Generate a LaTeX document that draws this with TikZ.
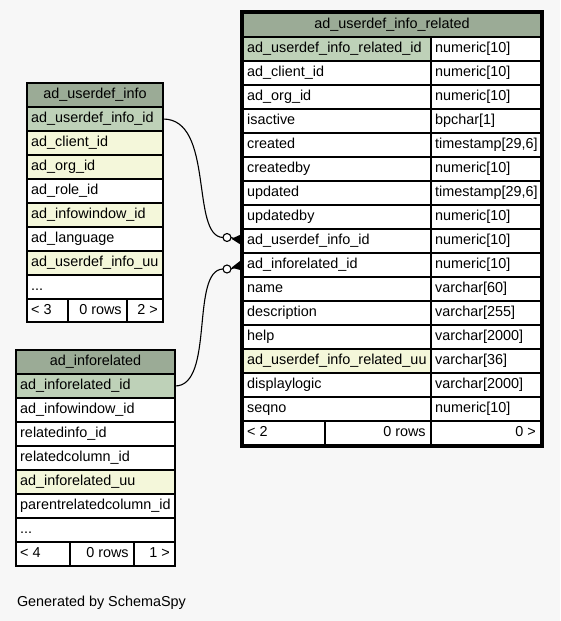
\documentclass[tikz,border=0pt]{standalone}
\usepackage{fontspec}
\setmainfont{Liberation Sans}
\definecolor{bgc}{HTML}{F7F7F7}
\definecolor{hdrc}{HTML}{9BAB96}
\definecolor{pkc}{HTML}{BED1B8}
\definecolor{idxc}{HTML}{F4F7DA}
\tikzset{
  cell/.style={draw=black, line width=1.2pt, anchor=north west, inner sep=0pt, outer sep=0pt},
  txt/.style={inner sep=0pt, outer sep=0pt, font=\fontsize{14.4}{17}\selectfont},
  edge/.style={draw=black, line width=1.1pt},
  odotc/.style={circle, draw=black, fill=white, line width=1.1pt, minimum size=8pt, inner sep=0pt, outer sep=0pt},
}
% left aligned cell
\newcommand\tcl[7]{%
  \node[cell, fill=#6, minimum width=#4pt, minimum height=#5pt] (#1) at (#2,#3) {};
  \node[txt, anchor=base west] (#1t) at ([xshift=4.2pt,yshift=-15.3pt]#1.north west) {#7};}
% right aligned cell
\newcommand\tcr[7]{%
  \node[cell, fill=#6, minimum width=#4pt, minimum height=#5pt] (#1) at (#2,#3) {};
  \node[txt, anchor=base east] (#1t) at ([xshift=-5.3pt,yshift=-15.3pt]#1.north east) {#7};}
% centred cell
\newcommand\tcc[7]{%
  \node[cell, fill=#6, minimum width=#4pt, minimum height=#5pt] (#1) at (#2,#3) {};
  \node[txt, anchor=base] (#1t) at ([yshift=-15.3pt]#1.north) {#7};}
\begin{document}
\begin{tikzpicture}[x=1pt, y=-1pt]
\fill[bgc] (0,0) rectangle (560,621);
\useasboundingbox (0,0) rectangle (560,621);

% ---------- ad_userdef_info ----------
\tcc{t1h}{27}{83}{136}{24}{hdrc}{ad\_userdef\_info}
\tcl{t1r1}{27}{107}{136}{24}{pkc}{ad\_userdef\_info\_id}
\tcl{t1r2}{27}{131}{136}{24}{idxc}{ad\_client\_id}
\tcl{t1r3}{27}{155}{136}{24}{idxc}{ad\_org\_id}
\tcl{t1r4}{27}{179}{136}{24}{white}{ad\_role\_id}
\tcl{t1r5}{27}{203}{136}{24}{idxc}{ad\_infowindow\_id}
\tcl{t1r6}{27}{227}{136}{24}{white}{ad\_language}
\tcl{t1r7}{27}{251}{136}{24}{idxc}{ad\_userdef\_info\_uu}
\tcl{t1r8}{27}{275}{136}{24}{white}{...}
\tcl{t1f1}{27}{299}{41}{23}{white}{< 3}
\tcr{t1f2}{68}{299}{59}{23}{white}{0 rows}
\tcr{t1f3}{127}{299}{36}{23}{white}{2 >}

% ---------- ad_inforelated ----------
\tcc{t2h}{16}{350}{159}{24}{hdrc}{ad\_inforelated}
\tcl{t2r1}{16}{374}{159}{24}{pkc}{ad\_inforelated\_id}
\tcl{t2r2}{16}{398}{159}{24}{white}{ad\_infowindow\_id}
\tcl{t2r3}{16}{422}{159}{24}{white}{relatedinfo\_id}
\tcl{t2r4}{16}{446}{159}{24}{white}{relatedcolumn\_id}
\tcl{t2r5}{16}{470}{159}{24}{idxc}{ad\_inforelated\_uu}
\tcl{t2r6}{16}{494}{159}{24}{white}{parentrelatedcolumn\_id}
\tcl{t2r7}{16}{518}{159}{24}{white}{...}
\tcl{t2f1}{16}{542}{54}{24}{white}{< 4}
\tcr{t2f2}{70}{542}{64}{24}{white}{0 rows}
\tcr{t2f3}{134}{542}{41}{24}{white}{1 >}

% ---------- ad_userdef_info_related ----------
\tcc{t3h}{243}{13}{298}{24}{hdrc}{ad\_userdef\_info\_related}
\tcl{t3a0}{243}{37}{188}{24}{pkc}{ad\_userdef\_info\_related\_id}
\tcl{t3b0}{431}{37}{110}{24}{white}{numeric[10]}
\tcl{t3a1}{243}{61}{188}{24}{white}{ad\_client\_id}
\tcl{t3b1}{431}{61}{110}{24}{white}{numeric[10]}
\tcl{t3a2}{243}{85}{188}{24}{white}{ad\_org\_id}
\tcl{t3b2}{431}{85}{110}{24}{white}{numeric[10]}
\tcl{t3a3}{243}{109}{188}{24}{white}{isactive}
\tcl{t3b3}{431}{109}{110}{24}{white}{bpchar[1]}
\tcl{t3a4}{243}{133}{188}{24}{white}{created}
\tcl{t3b4}{431}{133}{110}{24}{white}{timestamp[29,6]}
\tcl{t3a5}{243}{157}{188}{24}{white}{createdby}
\tcl{t3b5}{431}{157}{110}{24}{white}{numeric[10]}
\tcl{t3a6}{243}{181}{188}{24}{white}{updated}
\tcl{t3b6}{431}{181}{110}{24}{white}{timestamp[29,6]}
\tcl{t3a7}{243}{205}{188}{24}{white}{updatedby}
\tcl{t3b7}{431}{205}{110}{24}{white}{numeric[10]}
\tcl{t3a8}{243}{229}{188}{24}{white}{ad\_userdef\_info\_id}
\tcl{t3b8}{431}{229}{110}{24}{white}{numeric[10]}
\tcl{t3a9}{243}{253}{188}{24}{white}{ad\_inforelated\_id}
\tcl{t3b9}{431}{253}{110}{24}{white}{numeric[10]}
\tcl{t3a10}{243}{277}{188}{24}{white}{name}
\tcl{t3b10}{431}{277}{110}{24}{white}{varchar[60]}
\tcl{t3a11}{243}{301}{188}{24}{white}{description}
\tcl{t3b11}{431}{301}{110}{24}{white}{varchar[255]}
\tcl{t3a12}{243}{325}{188}{24}{white}{help}
\tcl{t3b12}{431}{325}{110}{24}{white}{varchar[2000]}
\tcl{t3a13}{243}{349}{188}{24}{idxc}{ad\_userdef\_info\_related\_uu}
\tcl{t3b13}{431}{349}{110}{24}{white}{varchar[36]}
\tcl{t3a14}{243}{373}{188}{24}{white}{displaylogic}
\tcl{t3b14}{431}{373}{110}{24}{white}{varchar[2000]}
\tcl{t3a15}{243}{397}{188}{24}{white}{seqno}
\tcl{t3b15}{431}{397}{110}{24}{white}{numeric[10]}
\tcl{t3f1}{243}{421}{82}{24}{white}{< 2}
\tcr{t3f2}{325}{421}{106}{24}{white}{0 rows}
\tcr{t3f3}{431}{421}{110}{24}{white}{0 >}
\node[draw=black, line width=3pt, anchor=north west, minimum width=301pt, minimum height=435pt, inner sep=0pt, outer sep=0pt] (t3frame) at (241.5,11.5) {};

% ---------- relationships ----------
\node[odotc] (c1) at (227,237.5) {};
\node[odotc] (c2) at (227,269) {};
\coordinate (k1) at (241,240.5);
\coordinate (k2) at (241,265);
\draw[edge] (t1r1.east) .. controls (215,119) and (190,236.5) .. (c1.west);
\draw[edge] (t2r1.east) .. controls (215,386) and (190,270) .. (c2.west);
\draw[edge] (c1.east) -- (k1);
\draw[edge] (c2.east) -- (k2);
\fill (231.5,238.8) -- (242,234) -- (242,245.5) -- cycle;
\fill (231.5,267.6) -- (242,259.5) -- (242,270.5) -- cycle;

% ---------- footer ----------
\node[txt, anchor=base west] (gen) at (17,606.7) {Generated by SchemaSpy};
\end{tikzpicture}
\end{document}
